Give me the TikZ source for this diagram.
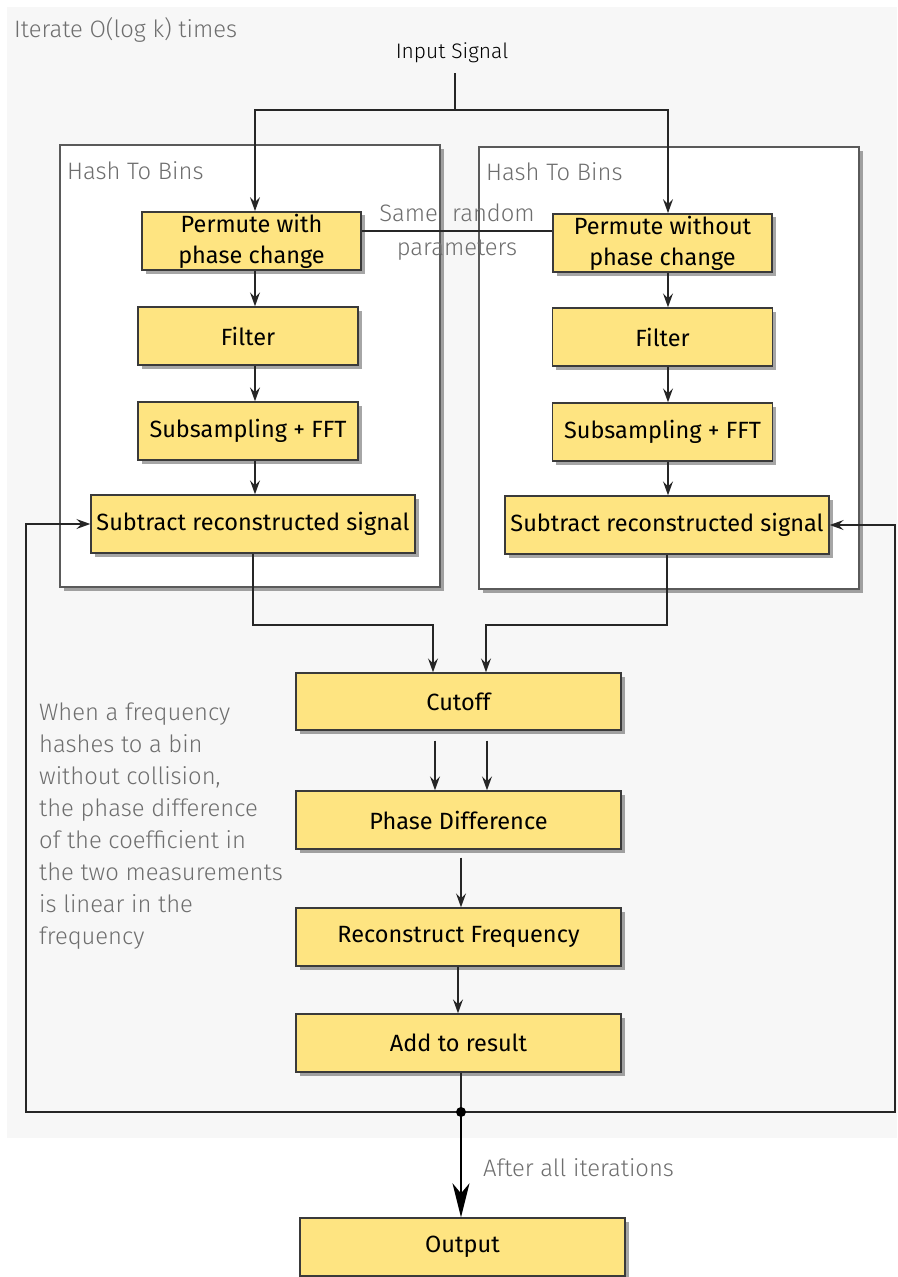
\documentclass[tikz,border=0pt]{standalone}
\usepackage{fontspec}
\IfFontExistsTF{Fira Sans Book}{\setmainfont{Fira Sans Book}}{\setmainfont{Fira Sans}}
\IfFontExistsTF{Fira Sans Light}{\newfontfamily\lightfont{Fira Sans Light}}{\newfontfamily\lightfont{Fira Sans}}
\usetikzlibrary{arrows.meta,shadows,calc}
\definecolor{boxyellow}{HTML}{FEE481}
\definecolor{boxborder}{HTML}{3A3A3A}
\definecolor{bggray}{HTML}{F7F7F7}
\definecolor{notegray}{HTML}{6E6E6E}
\definecolor{framegray}{HTML}{5A5A5A}
\tikzset{
  stepbox/.style={draw=boxborder, line width=1.4pt, fill=boxyellow, rectangle,
    minimum height=58pt, inner sep=2pt, align=center,
    font=\fontsize{23.5}{31}\selectfont,
    drop shadow={shadow xshift=3.5pt, shadow yshift=-3.5pt, fill=black, opacity=0.35}},
  framebox/.style={draw=framegray, line width=1.4pt, fill=white, rectangle, inner sep=0pt,
    drop shadow={shadow xshift=3.5pt, shadow yshift=-3.5pt, fill=black, opacity=0.35}},
  note/.style={text=notegray, font=\lightfont\fontsize{23.8}{32}\selectfont, inner sep=0pt},
  conn/.style={line width=1.3pt, draw=black!85},
  arr/.style={conn, -{Stealth[length=14pt, width=10pt, inset=5pt]}},
}
\begin{document}
\begin{tikzpicture}[x=1pt, y=-1pt]
\useasboundingbox (0,0) rectangle (897,1277);
% background
\fill[bggray] (7,7) rectangle (897,1138);
\node[note, anchor=west] (iter) at (14,30) {Iterate O(log k) times};

% frames
\node[framebox, minimum width=380pt, minimum height=442pt] (lframe) at (250,366) {};
\node[framebox, minimum width=380pt, minimum height=442pt] (rframe) at (669,368) {};
\node[note, anchor=west] (lhash) at (67,171) {Hash To Bins};
\node[note, anchor=west] (rhash) at (486,172) {Hash To Bins};

% left column
\node[stepbox, minimum width=219pt] (lp) at (251.5,241) {Permute with\\phase change};
\node[stepbox, minimum width=220pt] (lf) at (248,336) {Filter};
\node[stepbox, minimum width=220pt] (ls) at (248,431) {Subsampling + FFT};
\node[stepbox, minimum width=324pt] (lsub) at (253,524) {Subtract reconstructed signal};
% right column
\node[stepbox, minimum width=219pt] (rp) at (662.5,243) {Permute without\\phase change};
\node[stepbox, minimum width=220pt] (rf) at (662.5,337) {Filter};
\node[stepbox, minimum width=220pt] (rs) at (662.5,432) {Subsampling + FFT};
\node[stepbox, minimum width=324pt] (rsub) at (667,525) {Subtract reconstructed signal};
% center column
\node[stepbox, minimum width=325pt, minimum height=57pt] (cut) at (458.5,701.5) {Cutoff};
\node[stepbox, minimum width=325pt] (pd) at (458.5,820) {Phase Difference};
\node[stepbox, minimum width=325pt] (rfq) at (458.5,937) {Reconstruct Frequency};
\node[stepbox, minimum width=325pt] (add) at (458.5,1043) {Add to result};
\node[stepbox, minimum width=325pt] (out) at (462.5,1247) {Output};

% input
\node[font=\lightfont\fontsize{21}{24}\selectfont, inner sep=0pt] (in) at (452,53) {Input Signal};
\coordinate (split) at (455,110);
\coordinate (lx) at (255,0);
\coordinate (rx) at (668,0);
\draw[conn] (split |- 0,73) -- (split);
\draw[arr] (split) -| (lx |- lp.north);
\draw[arr] (split) -| (rx |- rp.north);

% same random parameters
\draw[conn] ([yshift=10pt]lp.east) -- ([yshift=10pt]lp.east -| rp.west);
\node[note, align=center, font=\lightfont\fontsize{23.8}{34}\selectfont] (same) at (457,232) {Same\hspace{0.6em}random\\parameters};

% column arrows
\draw[arr] (lx |- lp.south) -- (lx |- lf.north);
\draw[arr] (lx |- lf.south) -- (lx |- ls.north);
\draw[arr] (lx |- ls.south) -- (lx |- lsub.north);
\draw[arr] (rx |- rp.south) -- (rx |- rf.north);
\draw[arr] (rx |- rf.south) -- (rx |- rs.north);
\draw[arr] (rx |- rs.south) -- (rx |- rsub.north);

% merge into cutoff
\coordinate (ml) at (433,625);
\coordinate (mr) at (486,625);
\draw[arr] (lsub.south) |- (ml) -- (ml |- cut.north);
\draw[arr] (rsub.south) |- (mr) -- (mr |- cut.north);

% cutoff -> phase difference
\coordinate (c1) at (435,0);
\coordinate (c2) at (487,0);
\draw[arr] ([yshift=-10pt]c1 |- cut.south) -- (c1 |- pd.north);
\draw[arr] ([yshift=-10pt]c2 |- cut.south) -- (c2 |- pd.north);
\coordinate (c3) at (461,0);
\draw[arr] ([yshift=-8pt]c3 |- pd.south) -- (c3 |- rfq.north);
\coordinate (c4) at (458,0);
\draw[arr] (c4 |- rfq.south) -- (c4 |- add.north);

% add -> dot -> output
\coordinate (dot) at (461,1112);
\draw[conn] (dot |- add.south) -- (dot);
\draw[line width=2.2pt, -{Stealth[length=34pt, width=17pt, inset=10pt]}] (dot) -- (dot |- out.north);
\node[note, anchor=west] (after) at (483,1168) {After all iterations};

% feedback loops
\coordinate (lloop) at (26,1112);
\coordinate (rloop) at (895,1112);
\draw[arr] (dot) -- (lloop) |- (lsub.west);
\draw[arr] (dot) -- (rloop) |- (rsub.east);
\fill (dot) circle (5pt);

% explanatory note
\node[note, anchor=north west, align=left] (expl) at (39,703) {When a frequency\\hashes to a bin\\without collision,\\the phase difference\\of the coefficient in\\the two measurements\\is linear in the\\frequency};
\end{tikzpicture}
\end{document}
